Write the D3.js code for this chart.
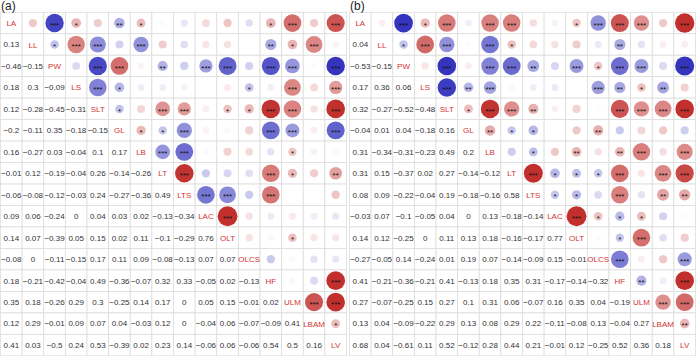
<!DOCTYPE html>
<html>
<head>
<meta charset="utf-8">
<script src="https://cdn.jsdelivr.net/npm/d3@7"></script>
<style>
html,body{margin:0;padding:0;background:#fff;}
svg{display:block;font-family:"Liberation Sans",Arial,Helvetica,sans-serif;}
</style>
</head>
<body>
<svg id="chart" width="696" height="356"></svg>
<script>
const variables = ["LA","LL","PW","LS","SLT","GL","LB","LT","LTS","LAC","OLT","OLCS","HF","ULM","LBAM","LV"];
const panelTitles = ["(a)","(b)"];

// Lower triangle correlations, panel (a)
const lowerA = [
  [],
  [0.13],
  [-0.46,-0.15],
  [0.18,0.3,-0.09],
  [0.12,-0.28,-0.45,-0.31],
  [-0.2,-0.11,0.35,-0.18,-0.15],
  [0.16,-0.27,0.03,-0.04,0.1,0.17],
  [-0.01,0.12,-0.19,-0.04,0.26,-0.14,-0.26],
  [-0.06,-0.08,-0.12,-0.03,0.24,-0.27,-0.36,0.49],
  [0.09,0.06,-0.24,0,0.04,0.03,0.02,-0.13,-0.34],
  [0.14,0.07,-0.39,0.05,0.15,0.02,0.11,-0.1,-0.29,0.76],
  [-0.08,0,-0.11,-0.15,0.17,0.11,0.09,-0.08,-0.13,0.07,0.07],
  [0.18,-0.21,-0.42,-0.04,0.49,-0.36,-0.07,0.32,0.33,-0.05,0.02,-0.13],
  [0.35,0.18,-0.26,0.29,0.3,-0.25,0.14,0.17,0,0.05,0.15,-0.01,0.02],
  [0.12,0.29,-0.01,0.09,0.07,0.04,-0.03,0.12,0,-0.04,0.06,-0.07,-0.09,0.41],
  [0.41,0.03,-0.5,0.24,0.53,-0.39,0.02,0.23,0.14,-0.06,0.06,-0.06,0.54,0.5,0.16]
];

// Lower triangle correlations, panel (b)
const lowerB = [
  [],
  [0.04],
  [-0.53,-0.15],
  [0.17,0.36,0.06],
  [0.32,-0.27,-0.52,-0.48],
  [-0.04,0.01,0.04,-0.18,0.16],
  [0.31,-0.34,-0.31,-0.23,0.49,0.2],
  [0.31,0.15,-0.37,0.02,0.27,-0.14,-0.12],
  [0.08,0.09,-0.22,-0.04,0.19,-0.18,-0.16,0.58],
  [-0.03,0.07,-0.1,-0.05,0.04,0,0.13,-0.18,-0.14],
  [0.14,0.12,-0.25,0,0.11,0.13,0.18,-0.16,-0.17,0.77],
  [-0.27,-0.05,0.14,-0.24,0.01,0.19,0.07,-0.14,-0.09,0.15,-0.01],
  [0.41,-0.21,-0.36,-0.21,0.41,-0.13,0.18,0.35,0.31,-0.17,-0.14,-0.32],
  [0.27,-0.07,-0.25,0.15,0.27,0.1,0.31,0.06,-0.07,0.16,0.35,0.04,-0.19],
  [0.13,0.04,-0.09,-0.22,0.29,0.13,0.08,0.29,0.22,-0.11,-0.08,0.13,-0.04,0.27],
  [0.68,0.04,-0.61,0.11,0.52,-0.12,0.28,0.44,0.21,-0.01,0.12,-0.25,0.52,0.36,0.18]
];

// Significance stars for upper triangle (row i, columns j>i): number of stars
const starsA = [
  "031021000001303",
  "13303000002130",
  "0330203303303",
  "310000010303",
  "10330113303",
  "1130003303",
  "330000100",
  "30003102",
  "3303000",
  "300000",
  "00100",
  "0000",
  "003",
  "33",
  "1"
];
const starsB = [
  "031303300133303",
  "13303100002000",
  "0303320313303",
  "323000032120",
  "13320003333",
  "2110020000",
  "010202303",
  "31113033",
  "1103022",
  "311100",
  "01300",
  "3003",
  "203",
  "33",
  "2"
];

const panels = [
  {title: panelTitles[0], lower: lowerA, stars: starsA, x0: 0.5},
  {title: panelTitles[1], lower: lowerB, stars: starsB, x0: 349.5}
];

const svg = d3.select("#chart");
const gridTop = 12.3, gridH = 343.5, gridW = 346;

const color = d3.scaleLinear()
  .domain([-0.5, 0, 0.5])
  .range(["#3434bd", "#ffffff", "#c1302d"])
  .interpolate(d3.interpolateRgb)
  .clamp(true);

const diam = d3.scaleLinear()
  .domain([0, 0.1, 0.15, 0.2, 0.25, 0.3, 0.45, 0.8])
  .range([6, 8, 8.5, 10.5, 14, 17.5, 18.3, 20])
  .clamp(true);

const fmt = v => (v === 0 ? "0" : String(v).replace("-", "\u2212"));

panels.forEach(p => {
  const g = svg.append("g");
  const x = d3.scaleBand().domain(d3.range(variables.length)).range([p.x0, p.x0 + gridW]);
  const y = d3.scaleBand().domain(d3.range(variables.length)).range([gridTop, gridTop + gridH]);
  const bw = x.bandwidth(), bh = y.bandwidth();

  const cells = [];
  for (let i = 0; i < variables.length; i++) {
    for (let j = 0; j < variables.length; j++) {
      let r = null, s = 0;
      if (i > j) r = p.lower[i][j];
      else if (i < j) { r = p.lower[j][i]; s = +p.stars[i][j - i - 1]; }
      cells.push({i, j, r, s});
    }
  }

  g.selectAll("rect.cell").data(cells).join("rect")
    .attr("class", "cell")
    .attr("x", d => x(d.j)).attr("y", d => y(d.i))
    .attr("width", bw).attr("height", bh)
    .attr("fill", "#ffffff").attr("stroke", "#dcdcdc").attr("stroke-width", 0.8);

  const up = cells.filter(d => d.j > d.i);
  g.selectAll("circle").data(up).join("circle")
    .attr("cx", d => x(d.j) + bw / 2).attr("cy", d => y(d.i) + bh / 2)
    .attr("r", d => diam(Math.abs(d.r)) / 2)
    .attr("fill", d => color(d.r));

  g.selectAll("text.star").data(up.filter(d => d.s > 0)).join("text")
    .attr("class", "star")
    .attr("x", d => x(d.j) + bw / 2).attr("y", d => y(d.i) + bh / 2 + 4.6)
    .attr("text-anchor", "middle").attr("font-size", 8).attr("fill", "#111")
    .text(d => "*".repeat(d.s));

  g.selectAll("text.num").data(cells.filter(d => d.i > d.j)).join("text")
    .attr("class", "num")
    .attr("x", d => x(d.j) + bw / 2).attr("y", d => y(d.i) + bh / 2 + 2.9)
    .attr("text-anchor", "middle").attr("font-size", 8).attr("fill", "#333")
    .text(d => fmt(d.r));

  g.selectAll("text.lab").data(variables).join("text")
    .attr("class", "lab")
    .attr("x", (d, k) => x(k) + bw / 2).attr("y", (d, k) => y(k) + bh / 2 + 3)
    .attr("text-anchor", "middle").attr("font-size", 8).attr("fill", "#d5332f")
    .text(d => d);

  svg.append("text").attr("x", p.x0 + 0.5).attr("y", 10)
    .attr("font-size", 12).attr("fill", "#222").text(p.title);
});
</script>
</body>
</html>
